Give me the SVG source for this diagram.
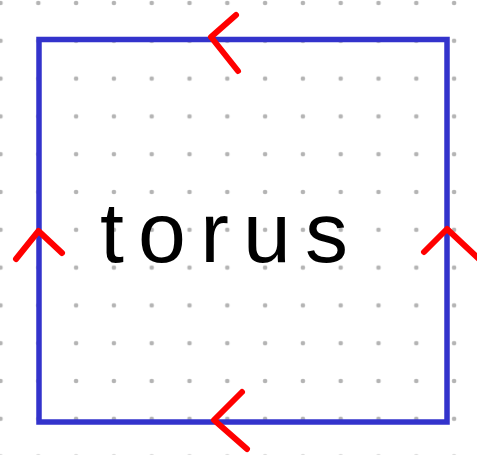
<svg xmlns="http://www.w3.org/2000/svg" width="477" height="455" viewBox="0 0 477 455">
<defs>
<pattern id="dots" x="0.5" y="3" width="37.8" height="37.8" patternUnits="userSpaceOnUse">
<circle cx="0" cy="0" r="2.3" fill="#b4b4b4"/>
<circle cx="37.8" cy="0" r="2.3" fill="#b4b4b4"/>
<circle cx="0" cy="37.8" r="2.3" fill="#b4b4b4"/>
<circle cx="37.8" cy="37.8" r="2.3" fill="#b4b4b4"/>
</pattern>
<style>
.edge{fill:none;stroke:#3333cc;stroke-width:5.5;stroke-linejoin:miter}
.arrow{fill:none;stroke:#ff0000;stroke-width:6;stroke-linecap:round;stroke-linejoin:round}
.label{font-family:"Liberation Sans","DejaVu Sans",sans-serif;font-size:86px;fill:#000000}
</style>
</defs>
<rect width="477" height="455" fill="#ffffff"/>
<rect width="477" height="455" fill="url(#dots)"/>
<g id="square">
<rect class="edge" x="39" y="39.5" width="408" height="382.5"/>
</g>
<g id="label">
<text class="label" x="100" y="262" textLength="248" lengthAdjust="spacing">torus</text>
</g>
<g id="connectors">
<polyline class="arrow" points="236,15 211,37 238,71"/>
<polyline class="arrow" points="16,259 38.5,231 62,253"/>
<polyline class="arrow" points="424,252 447,229 480,260"/>
<polyline class="arrow" points="242,392 214,420 247,449"/>
</g>
</svg>
